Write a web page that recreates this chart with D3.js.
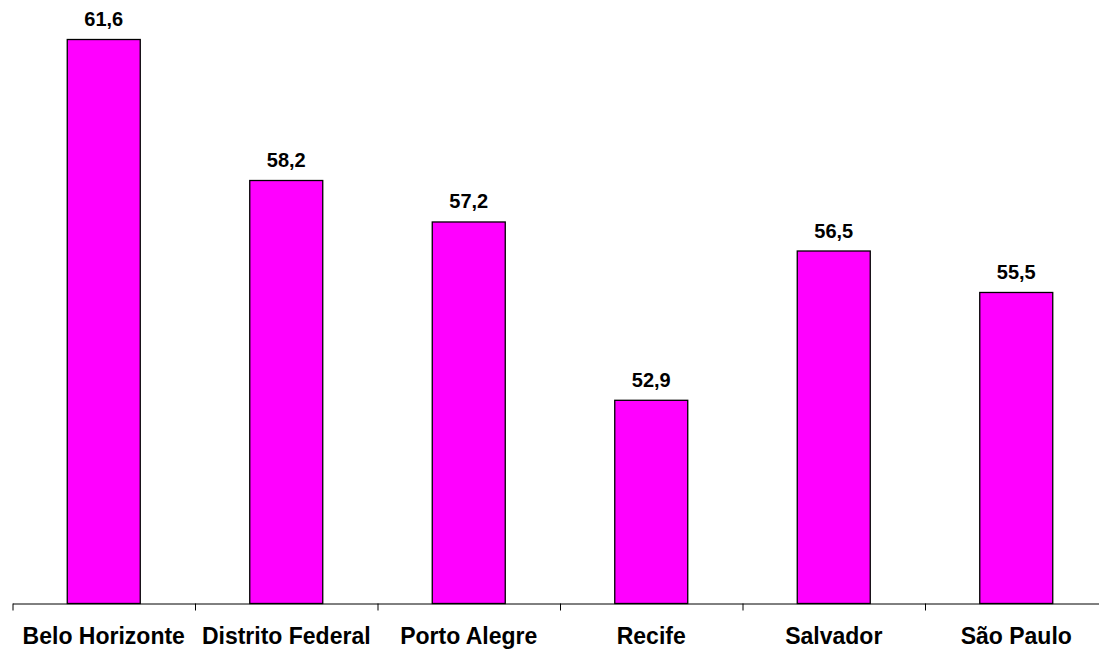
<!DOCTYPE html>
<html>
<head>
<meta charset="utf-8">
<script src="https://cdn.jsdelivr.net/npm/d3@7"></script>
<style>
  html, body { margin: 0; padding: 0; background: #fff; }
  svg { display: block; }
  text { font-family: Arial, "Liberation Sans", sans-serif; font-weight: bold; fill: #000; }
</style>
</head>
<body>
<svg id="chart" width="1099" height="653"></svg>
<script>
const categories = ["Belo Horizonte", "Distrito Federal", "Porto Alegre", "Recife", "Salvador", "São Paulo"];
const values = [61.6, 58.2, 57.2, 52.9, 56.5, 55.5];
const valueLabels = ["61,6", "58,2", "57,2", "52,9", "56,5", "55,5"];

const svg = d3.select("#chart");
const x0 = 12.5, x1 = 1107.5, baseY = 603.5;

const x = d3.scaleBand().domain(categories).range([x0, x1]).paddingInner(0).paddingOuter(0);
const y = d3.scaleLinear().domain([48, 62]).range([baseY, baseY - 14 * 41.47]);
const barW = x.bandwidth() * 0.4;

// Bars
svg.append("g").selectAll("rect")
  .data(categories)
  .join("rect")
  .attr("x", (d) => x(d) + (x.bandwidth() - barW) / 2)
  .attr("y", (d, i) => y(values[i]))
  .attr("width", barW)
  .attr("height", (d, i) => y(48) - y(values[i]))
  .attr("fill", "#ff00ff")
  .attr("stroke", "#000")
  .attr("stroke-width", 1.3);

// Value labels
svg.append("g").selectAll("text")
  .data(categories)
  .join("text")
  .attr("x", (d) => x(d) + x.bandwidth() / 2)
  .attr("y", (d, i) => y(values[i]) - 13.5)
  .attr("text-anchor", "middle")
  .style("font-size", "20px")
  .text((d, i) => valueLabels[i]);

// Axis with ticks at category boundaries
const idx = d3.scaleLinear().domain([0, categories.length]).range([x0, x1]);
const axis = d3.axisBottom(idx)
  .tickValues(d3.range(categories.length + 1))
  .tickFormat("")
  .tickSize(7)
  .tickSizeOuter(0);
const ax = svg.append("g").attr("transform", `translate(0,${baseY})`).call(axis);
ax.selectAll("path, line").attr("stroke", "#000").attr("stroke-width", 1);

// Category labels
svg.append("g").selectAll("text")
  .data(categories)
  .join("text")
  .attr("x", (d) => x(d) + x.bandwidth() / 2)
  .attr("y", 643.5)
  .attr("text-anchor", "middle")
  .style("font-size", "23px")
  .text((d) => d);
</script>
</body>
</html>
